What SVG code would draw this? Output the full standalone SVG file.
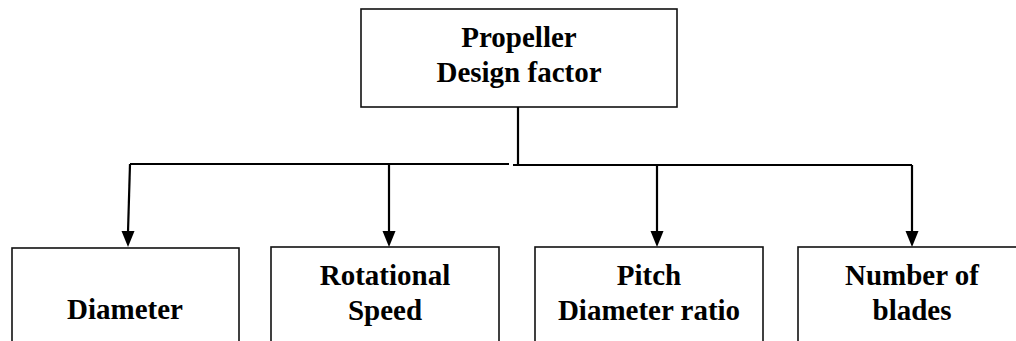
<svg xmlns="http://www.w3.org/2000/svg" width="1016" height="341" viewBox="0 0 1016 341">
<style>
.box{fill:#fff;stroke:#111;stroke-width:1.6}
.lbl{font-family:"Liberation Serif","Times New Roman",serif;font-weight:bold;font-size:29px;fill:#000;text-anchor:middle}
.ln{fill:none;stroke:#000;stroke-width:2.2}
</style>
<defs>
<marker id="ah" markerUnits="userSpaceOnUse" markerWidth="13" markerHeight="16" refX="6.5" refY="15" orient="auto-start-reverse" viewBox="0 0 13 16">
<path d="M0,0 L13,0 L6.5,16 Z" fill="#000"/>
</marker>
</defs>
<rect width="1016" height="341" fill="#fff"/>
<g id="top">
<rect class="box" x="361" y="9" width="316" height="98"/>
<text class="lbl" x="519" y="47">Propeller</text>
<text class="lbl" x="519" y="82">Design factor</text>
</g>
<g id="connectors">
<path class="ln" d="M518,107 V164"/>
<path class="ln" d="M130,164 H509"/>
<path class="ln" d="M513,165 H912"/>
<path class="ln" d="M130,164 L128,232"/>
<path class="ln" d="M389,164 V232"/>
<path class="ln" d="M657,164 V232"/>
<path class="ln" d="M912,165 V232"/>
<path d="M121.5,231 L134.5,231 L128,247 Z" fill="#000"/>
<path d="M382.5,231 L395.5,231 L389,247 Z" fill="#000"/>
<path d="M650.5,231 L663.5,231 L657,247 Z" fill="#000"/>
<path d="M905.5,231 L918.5,231 L912,247 Z" fill="#000"/>
</g>
<g id="diameter">
<rect class="box" x="12" y="248" width="227" height="120"/>
<text class="lbl" x="125" y="319">Diameter</text>
</g>
<g id="speed">
<rect class="box" x="271" y="247" width="228" height="120"/>
<text class="lbl" x="385" y="285">Rotational</text>
<text class="lbl" x="385" y="320">Speed</text>
</g>
<g id="pitch">
<rect class="box" x="535" y="247" width="228" height="120"/>
<text class="lbl" x="649" y="285">Pitch</text>
<text class="lbl" x="649" y="320">Diameter ratio</text>
</g>
<g id="blades">
<rect class="box" x="798" y="247" width="228" height="120"/>
<text class="lbl" x="912" y="285">Number of</text>
<text class="lbl" x="912" y="320">blades</text>
</g>
</svg>
